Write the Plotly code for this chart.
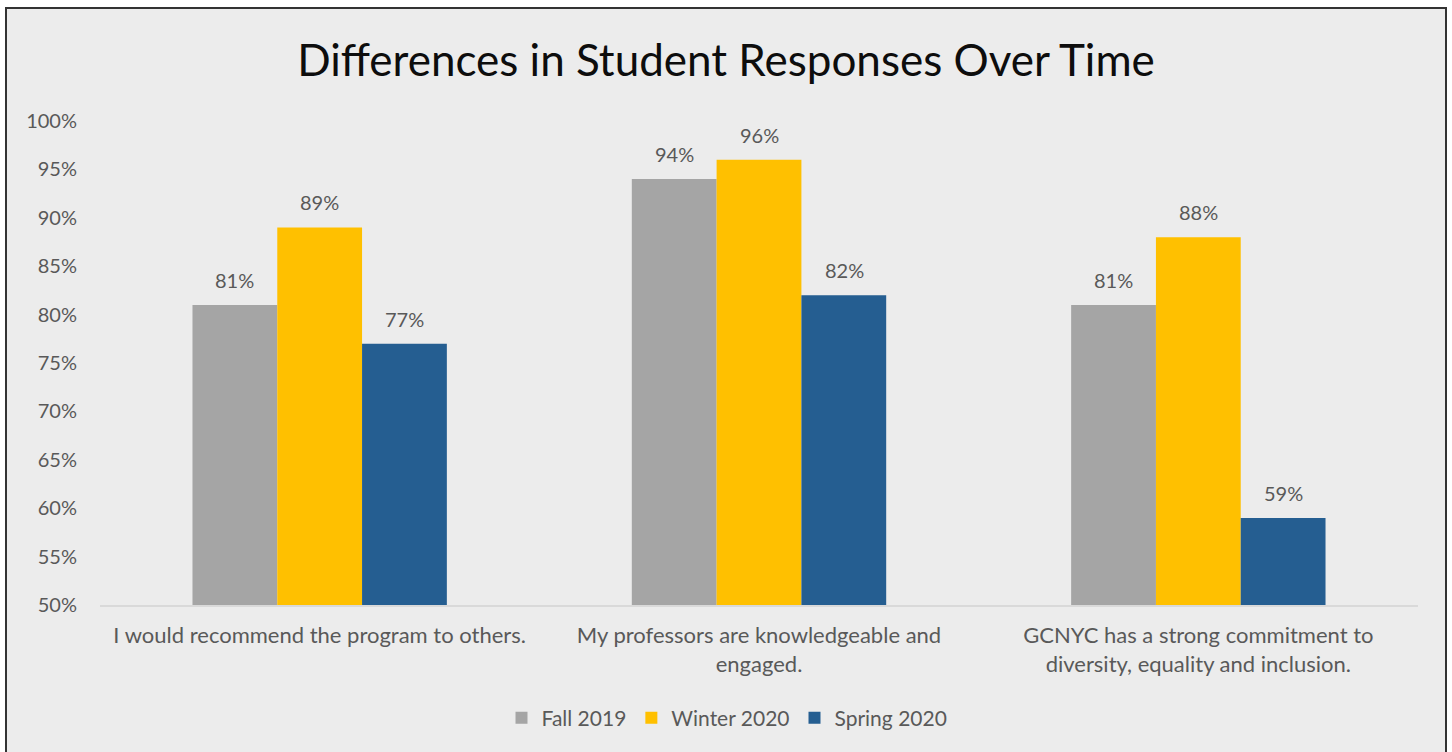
import plotly.graph_objects as go

categories = [
    "I would recommend the program to others.",
    "My professors are knowledgeable and<br>engaged.",
    "GCNYC has a strong commitment to<br>diversity, equality and inclusion.",
]
series_names = ["Fall 2019", "Winter 2020", "Spring 2020"]
fall_2019 = [81, 94, 81]
winter_2020 = [89, 96, 88]
spring_2020 = [77, 82, 59]
colors = ["#A5A5A5", "#FFC000", "#255E91"]
tick_vals = [50, 55, 60, 65, 70, 75, 80, 85, 90, 95, 100]
tick_text = [f"{v}%" for v in tick_vals]

FONT = "Lato"
TXT = "#595959"
BASE = 50

all_series = [fall_2019, winter_2020, spring_2020]

fig = go.Figure()
for name, vals, col in zip(series_names, all_series, colors):
    fig.add_trace(go.Bar(
        x=categories, y=[v - BASE for v in vals], base=BASE, name=name,
        marker=dict(color=col, line=dict(width=0)), hoverinfo="skip",
    ))

# Data labels via annotations positioned on axis scales
shifts = [-85, 0, 85]
annotations = []
for vals, xs in zip(all_series, shifts):
    for c, v in zip(categories, vals):
        annotations.append(dict(
            x=c, y=v, xref="x", yref="y", text=f"{v}%", showarrow=False,
            xshift=xs, yshift=25, yanchor="middle",
            font=dict(family=FONT, size=20, color=TXT),
        ))

W, H = 1452, 752
L, R, T, B = 100, 34, 121, 147
pw = W - L - R
ph = H - T - B

def px_x(x):
    return (x - L) / pw

def px_y(y):
    return (H - B - y) / ph

fig.update_layout(
    width=W, height=H,
    margin=dict(l=L, r=R, t=T, b=B, autoexpand=False),
    paper_bgcolor="white",
    plot_bgcolor="rgba(0,0,0,0)",
    barmode="group", bargap=0.421, bargroupgap=0,
    title=dict(
        text="Differences in Student Responses Over Time",
        x=0.5, xanchor="center", y=1 - 61 / H, yanchor="middle", yref="container",
        font=dict(family=FONT, size=44, color="#0d0d0d"),
    ),
    xaxis=dict(
        showgrid=False, showline=True, linecolor="#D9D9D9", linewidth=2,
        ticks="", tickfont=dict(family=FONT, size=22, color=TXT),
        ticklabelstandoff=10, fixedrange=True,
    ),
    yaxis=dict(
        range=[50, 100], tickvals=tick_vals, ticktext=tick_text,
        showgrid=False, zeroline=False, showline=False, ticks="",
        tickfont=dict(family=FONT, size=20, color=TXT),
        ticklabelstandoff=22,
    ),
    legend=dict(
        orientation="h", x=px_x(727), xanchor="center", y=px_y(718), yanchor="middle",
        font=dict(family=FONT, size=21, color=TXT), bgcolor="rgba(0,0,0,0)",
        traceorder="normal",
    ),
    annotations=annotations,
    shapes=[dict(
        type="rect", xref="paper", yref="paper", layer="below",
        x0=px_x(6), x1=px_x(1446), y0=px_y(790), y1=px_y(8),
        fillcolor="#ECECEC", line=dict(color="#333333", width=2),
    )],
)

fig.write_html("out.html")
